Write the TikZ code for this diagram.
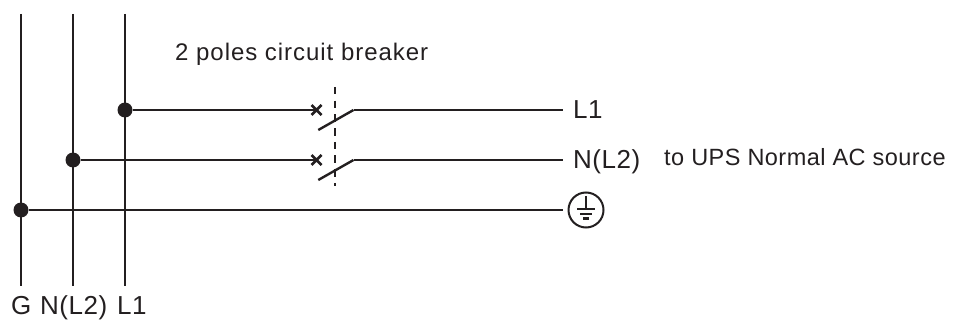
\documentclass[tikz,border=0pt]{standalone}
\usepackage{fontspec}
\setmainfont{Liberation Sans}
\newfontfamily\widefont[LetterSpace=4]{Liberation Sans}
\newfontfamily\midfont[LetterSpace=2]{Liberation Sans}
\definecolor{ink}{HTML}{231F20}
\begin{document}
\begin{tikzpicture}[x=1pt,y=-1pt,
  wire/.style={draw=ink,line width=2pt},
  slant/.style={draw=ink,line width=2.4pt},
  dotmark/.style={circle,fill=ink,inner sep=0pt,minimum size=15pt},
  lab/.style={inner sep=0pt,text=ink,font=\midfont\fontsize{26}{30}\selectfont,anchor=base west},
  note/.style={inner sep=0pt,text=ink,font=\widefont\fontsize{24}{28}\selectfont,anchor=base west},
  noteb/.style={inner sep=0pt,text=ink,font=\midfont\fontsize{23.5}{28}\selectfont,anchor=base west},
  earthring/.style={circle,draw=ink,line width=2pt,minimum size=35pt,inner sep=0pt}]
\useasboundingbox (0,0) rectangle (958,320);
% bus tops and bottoms
\coordinate (gt) at (21,14); \coordinate (gb) at (21,286);
\coordinate (nt) at (73,14);   \coordinate (nb) at (73,286);
\coordinate (lt) at (125,14);\coordinate (lb) at (125,286);
\draw[wire] (gt)--(gb); \draw[wire] (nt)--(nb); \draw[wire] (lt)--(lb);
% junctions
\node[dotmark] (j1) at (125,110) {};
\node[dotmark] (j2) at (73,160) {};
\node[dotmark] (j3) at (21,210) {};
% breaker points
\coordinate (x1) at (316,110); \coordinate (x2) at (316,160);
\coordinate (sa1) at (318.3,130); \coordinate (sb1) at (353.5,110);
\coordinate (sa2) at (318.3,180); \coordinate (sb2) at (353.5,160);
\coordinate (e1) at (563,110); \coordinate (e2) at (563,160);
% wires
\draw[wire] (j1)--(x1);
\draw[wire] (j2)--(x2);
\draw[slant] (sa1)--(sb1);
\draw[slant] (sa2)--(sb2);
\draw[wire] (sb1)--(e1);
\draw[wire] (sb2)--(e2);
% x marks
\draw[draw=ink,line width=2.6pt] (311.5,105)--(321.5,115) (311.5,115)--(321.5,105);
\draw[draw=ink,line width=2.6pt] (311.5,155)--(321.5,165) (311.5,165)--(321.5,155);
% dashed link
\coordinate (da) at (334.5,87); \coordinate (db) at (334.5,186);
\draw[draw=ink,line width=2pt,dash pattern=on 7.5pt off 6.2pt] (da)--(db);
% earth
\node[earthring] (earth) at (586,210) {};
\coordinate (e3) at (563,210);
\draw[wire] (j3)--(e3);
\draw[draw=ink,line width=2pt] (586,196)--(586,209);
\draw[draw=ink,line width=2.2pt] (577,209)--(595,209);
\draw[draw=ink,line width=2.2pt] (580,214)--(592,214);
\draw[draw=ink,line width=2.2pt] (583,218.5)--(589,218.5);
% labels
\node[note] (t1) at (175,61) {2 poles circuit breaker};
\node[lab] (t2) at (573,119) {L1};
\node[lab] (t3) at (573,169) {N(L2)};
\node[noteb] (t4) at (664,166) {to UPS Normal AC source};
\node[lab] (t5) at (11,314.5) {G};
\node[lab] (t6) at (40,314.5) {N(L2)};
\node[lab] (t7) at (117,314.5) {L1};
\end{tikzpicture}
\end{document}
